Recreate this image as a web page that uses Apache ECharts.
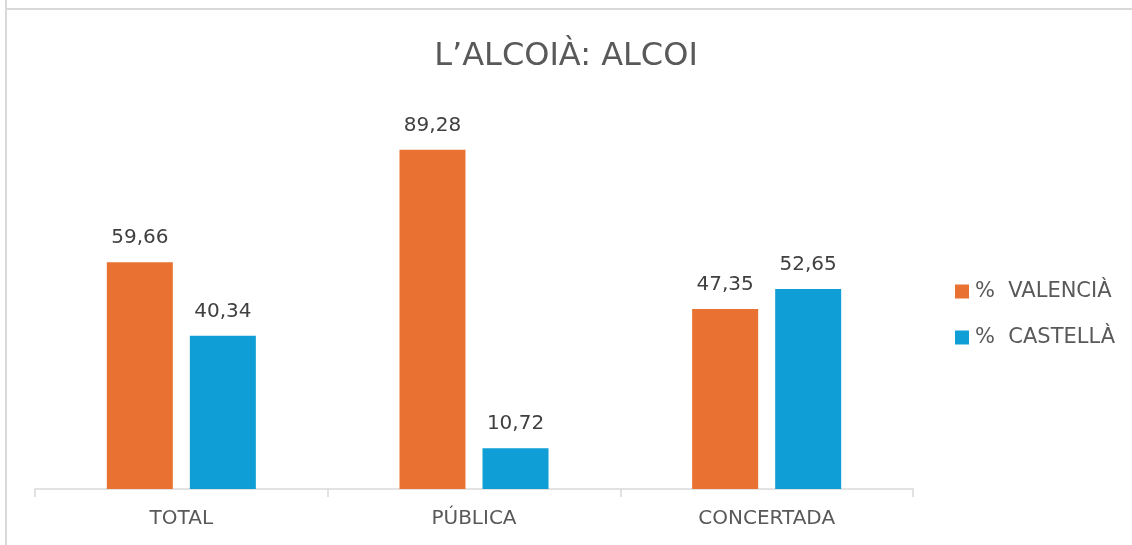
<!DOCTYPE html>
<html>
<head>
<meta charset="utf-8">
<script src="https://cdn.jsdelivr.net/npm/echarts@6/dist/echarts.min.js"></script>
<style>
  html, body { margin: 0; padding: 0; background: #fff; }
  #chart { width: 1132px; height: 545px; }
</style>
</head>
<body>
<div id="chart"></div>
<script>
// data
const categories = ['TOTAL', 'PÚBLICA', 'CONCERTADA'];
const valencia = [59.66, 89.28, 47.35];
const castella = [40.34, 10.72, 52.65];
const seriesNames = ['% VALENCIÀ', '% CASTELLÀ'];

const textColor = '#595959';
const fontFamily = '"DejaVu Sans", sans-serif';

const fmt = (p) => p.value.toFixed(2).replace('.', ',');

const labelStyle = {
    show: true,
    position: 'top',
    distance: 14,
    color: '#404040',
    fontSize: 20,
    fontFamily: fontFamily,
    formatter: fmt
};

const chart = echarts.init(document.getElementById('chart'));

chart.setOption({
    animation: false,
    title: {
        text: 'L’ALCOIÀ: ALCOI',
        left: 'center',
        top: 36,
        textStyle: { color: textColor, fontSize: 32, fontWeight: 'normal', fontFamily: fontFamily }
    },
    legend: {
        orient: 'vertical',
        left: 955,
        top: 281,
        padding: 0,
        itemWidth: 14,
        itemHeight: 14,
        itemGap: 25,
        icon: 'rect',
        // excel leaves a wider gap after the percent sign
        formatter: (name) => name.replace('% ', '%  '),
        textStyle: { color: textColor, fontSize: 21, lineHeight: 20, fontFamily: fontFamily, padding: [0, 0, 0, 1] },
        data: seriesNames
    },
    grid: { left: 35, right: 219, top: 109, bottom: 56 },
    xAxis: {
        type: 'category',
        data: categories,
        axisLine: { lineStyle: { color: '#D9D9D9', width: 1.5 } },
        axisTick: { show: true, length: 8, lineStyle: { color: '#D9D9D9', width: 1.5 } },
        axisLabel: { color: textColor, fontSize: 20, fontFamily: fontFamily, margin: 20 }
    },
    yAxis: {
        type: 'value',
        min: 0,
        max: 100,
        show: false
    },
    graphic: [
        { type: 'line', shape: { x1: 6, y1: 0, x2: 6, y2: 545 }, style: { stroke: '#D9D9D9', lineWidth: 2 } },
        { type: 'line', shape: { x1: 6, y1: 9, x2: 1132, y2: 9 }, style: { stroke: '#D9D9D9', lineWidth: 2 } }
    ],
    series: [
        {
            name: seriesNames[0],
            type: 'bar',
            data: valencia,
            barWidth: 66,
            barGap: '25.8%',
            itemStyle: { color: '#E97132' },
            label: labelStyle
        },
        {
            name: seriesNames[1],
            type: 'bar',
            data: castella,
            barWidth: 66,
            barGap: '25.8%',
            itemStyle: { color: '#0F9ED5' },
            label: labelStyle
        }
    ]
});
</script>
</body>
</html>
